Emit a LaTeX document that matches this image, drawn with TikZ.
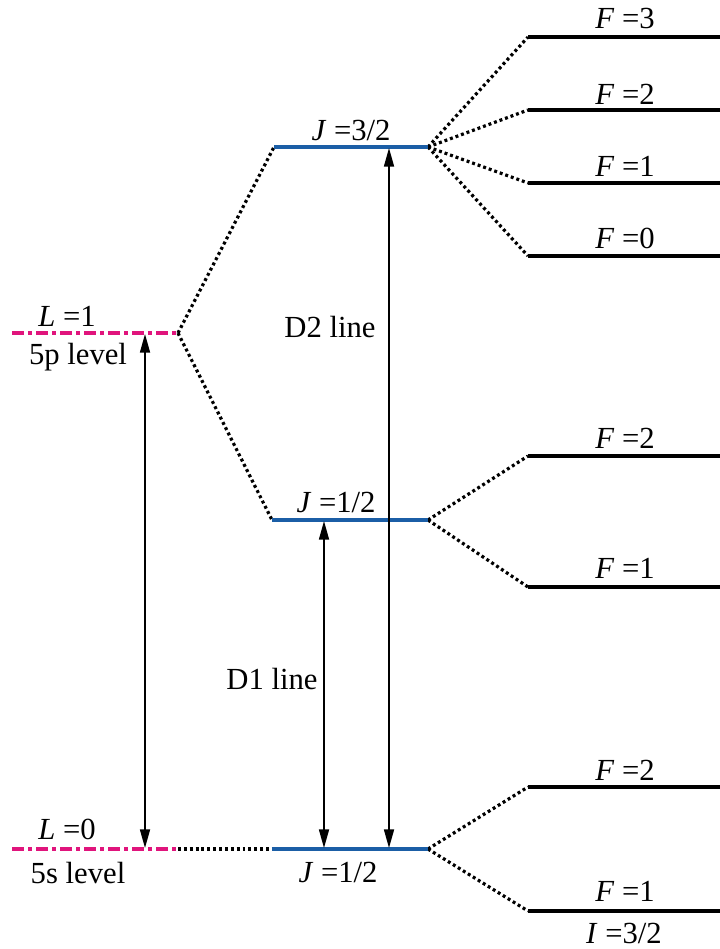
\documentclass[tikz,border=0pt]{standalone}
\usepackage{fontspec}
\setmainfont{Liberation Serif}
\newfontfamily\lblfont{Liberation Serif}
\usetikzlibrary{arrows.meta}
\definecolor{finelevel}{HTML}{1B5EA6}
\definecolor{orbital}{HTML}{E0147C}
\tikzset{
  hyperfine/.style={line width=3.6pt, black},
  finestate/.style={line width=3pt, finelevel},
  orbstate/.style={line width=3pt, orbital, dash pattern=on 9pt off 3pt on 3pt off 3pt},
  split/.style={line width=2.4pt, black, dash pattern=on 2.2pt off 2.2pt},
  transition/.style={line width=1.3pt, black, {Triangle[length=14pt,width=7.5pt]}-{Triangle[length=14pt,width=7.5pt]}},
  lbl/.style={inner sep=0pt, font=\lblfont\fontsize{23}{27}\selectfont}
}
\begin{document}
\begin{tikzpicture}[x=0.75pt, y=-0.75pt]
\useasboundingbox (0,0) rectangle (720,949);

% orbital levels (5p, 5s)
\coordinate (Pa) at (12,333);  \coordinate (Pb) at (178,333);
\coordinate (Sa) at (12,849);  \coordinate (Sb) at (178,849);

% fine-structure levels
\coordinate (P32a) at (274,147); \coordinate (P32b) at (428,147);
\coordinate (P12a) at (272,520); \coordinate (P12b) at (428,520);
\coordinate (S12a) at (272,849); \coordinate (S12b) at (428,849);

% hyperfine levels
\foreach \n/\y in {F3/37, F2/110, F1/183, F0/256, G2/456, G1/587, H2/787, H1/911}{
  \coordinate (\n a) at (528,\y);
  \coordinate (\n b) at (720,\y);
}

% splitting connectors
\draw[split] (Pb) -- (P32a);
\draw[split] (Pb) -- (P12a);
\draw[split] (Sb) -- (S12a);
\foreach \n in {F3, F2, F1, F0}{ \draw[split] (P32b) -- (\n a); }
\foreach \n in {G2, G1}{ \draw[split] (P12b) -- (\n a); }
\foreach \n in {H2, H1}{ \draw[split] (S12b) -- (\n a); }

% level lines
\draw[orbstate] (Pa) -- (Pb);
\draw[orbstate] (Sa) -- (Sb);
\draw[finestate] (P32a) -- (P32b);
\draw[finestate] (P12a) -- (P12b);
\draw[finestate] (S12a) -- (S12b);
\foreach \n in {F3, F2, F1, F0, G2, G1, H2, H1}{
  \draw[hyperfine] (\n a) -- (\n b);
}

% transitions
\coordinate (T1) at (145,334); \coordinate (B1) at (145,848);
\coordinate (T2) at (324,521); \coordinate (B2) at (324,848);
\coordinate (T3) at (389,148); \coordinate (B3) at (389,848);
\draw[transition] (T1) -- (B1);
\draw[transition] (T2) -- (B2);
\draw[transition] (T3) -- (B3);

% labels
\node[lbl] (lL1) at (67,316) {\textit{L} =1};
\node[lbl] (lP)  at (78,357) {5p level};
\node[lbl] (lL0) at (67,829) {\textit{L} =0};
\node[lbl] (lS)  at (78,873) {5s level};
\node[lbl] (lJ3) at (351,130) {\textit{J} =3/2};
\node[lbl] (lJ1) at (336,502) {\textit{J} =1/2};
\node[lbl] (lJ0) at (338,872) {\textit{J} =1/2};
\node[lbl] (lD2) at (330,327) {D2 line};
\node[lbl] (lD1) at (272,679) {D1 line};
\node[lbl] (lF3) at (625,18)  {\textit{F} =3};
\node[lbl] (lF2) at (625,94)  {\textit{F} =2};
\node[lbl] (lF1) at (625,166) {\textit{F} =1};
\node[lbl] (lF0) at (625,238) {\textit{F} =0};
\node[lbl] (lG2) at (625,438) {\textit{F} =2};
\node[lbl] (lG1) at (625,568) {\textit{F} =1};
\node[lbl] (lH2) at (625,770) {\textit{F} =2};
\node[lbl] (lH1) at (625,891) {\textit{F} =1};
\node[lbl] (lI)  at (624,933) {\textit{I} =3/2};
\end{tikzpicture}
\end{document}
